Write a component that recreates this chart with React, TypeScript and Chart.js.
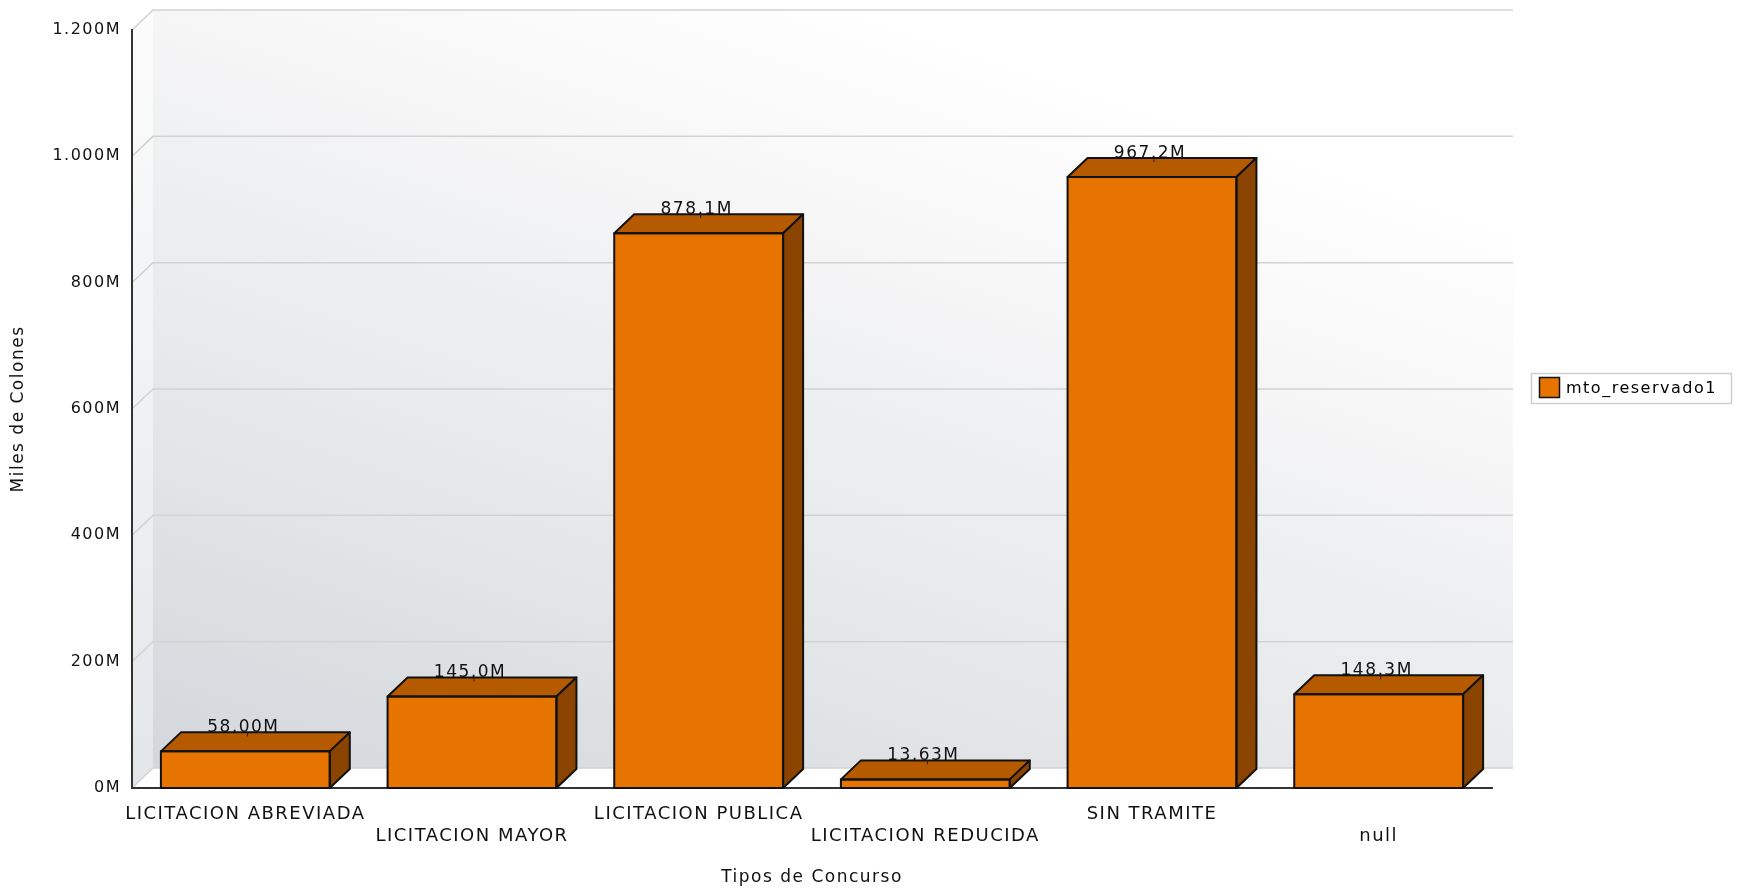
import React, { useEffect, useRef } from "react";
import { Chart, registerables } from "chart.js";

Chart.register(...registerables);

// ---------- data ----------
const categories: string[] = [
  "LICITACION ABREVIADA",
  "LICITACION MAYOR",
  "LICITACION PUBLICA",
  "LICITACION REDUCIDA",
  "SIN TRAMITE",
  "null",
];
const seriesName = "mto_reservado1";
// values in millions
const values: number[] = [58.0, 145.0, 878.1, 13.63, 967.2, 148.3];
const yTickValues: number[] = [0, 200, 400, 600, 800, 1000, 1200];
const yAxisTitle = "Miles de Colones";
const xAxisTitle = "Tipos de Concurso";

// ---------- style ----------
const W = 1743;
const H = 889;
const FONT = "'DejaVu Sans', sans-serif";
const FRONT = "#E87400";
const TOP = "#B65A00";
const SIDE = "#8A4400";
const TEXT = "#111111";
const DX = 20; // bar depth x
const DY = 19; // bar depth y
const WX = 21; // wall depth x
const WY = 20; // wall depth y

function fmtTick(v: number): string {
  const s = Math.round(v)
    .toString()
    .replace(/\B(?=(\d{3})+(?!\d))/g, ".");
  return s + "M";
}
function fmtVal(v: number): string {
  return v.toPrecision(4).replace(".", ",") + "M";
}

function setSpacing(chart: any) {
  try {
    (chart.ctx as any).letterSpacing = "1.5px";
  } catch (e) {}
}

const threeD = {
  id: "threeD",
  beforeUpdate: (chart: any) => setSpacing(chart),
  beforeLayout: (chart: any) => setSpacing(chart),
  beforeDraw(chart: any) {
    setSpacing(chart);
    const ctx: CanvasRenderingContext2D = chart.ctx;
    const { left, top, right, bottom } = chart.chartArea;
    const y = chart.scales.y;
    ctx.save();
    // floor
    ctx.beginPath();
    ctx.moveTo(left, bottom);
    ctx.lineTo(left + WX, bottom - WY);
    ctx.lineTo(right + WX, bottom - WY);
    ctx.lineTo(right, bottom);
    ctx.closePath();
    ctx.fillStyle = "#ffffff";
    ctx.fill();
    // left wall
    const lg = ctx.createLinearGradient(left, bottom, left + WX, top - WY);
    lg.addColorStop(0, "#e3e6e9");
    lg.addColorStop(1, "#fcfcfc");
    ctx.beginPath();
    ctx.moveTo(left, top);
    ctx.lineTo(left + WX, top - WY);
    ctx.lineTo(left + WX, bottom - WY);
    ctx.lineTo(left, bottom);
    ctx.closePath();
    ctx.fillStyle = lg;
    ctx.fill();
    // back wall
    const bx0 = left + WX;
    const by0 = bottom - WY;
    const bg = ctx.createLinearGradient(bx0, by0, bx0 + 300, by0 - 900);
    bg.addColorStop(0, "#d3d7db");
    bg.addColorStop(0.45, "#e9eaec");
    bg.addColorStop(0.6, "#eeeff1");
    bg.addColorStop(0.76, "#f6f6f7");
    bg.addColorStop(1, "#ffffff");
    ctx.fillStyle = bg;
    ctx.fillRect(left + WX, top - WY, right - left, bottom - top);
    // grid lines on walls
    ctx.strokeStyle = "#d2d2d2";
    ctx.lineWidth = 1.5;
    for (const v of yTickValues) {
      const py = y.getPixelForValue(v);
      ctx.beginPath();
      ctx.moveTo(left, py);
      ctx.lineTo(left + WX, py - WY);
      ctx.lineTo(right + WX, py - WY);
      ctx.stroke();
    }
    ctx.restore();
  },
  beforeDatasetsDraw(chart: any) {
    const ctx: CanvasRenderingContext2D = chart.ctx;
    const meta = chart.getDatasetMeta(0);
    const data = chart.data.datasets[0].data as number[];
    ctx.save();
    ctx.font = `17px ${FONT}`;
    ctx.fillStyle = TEXT;
    ctx.textAlign = "center";
    ctx.textBaseline = "alphabetic";
    meta.data.forEach((el: any, i: number) => {
      const p = el.getProps(["x", "y"], true);
      ctx.fillText(fmtVal(data[i]), p.x - 2, p.y - DY + 0);
    });
    ctx.restore();
  },
  afterDatasetsDraw(chart: any) {
    const ctx: CanvasRenderingContext2D = chart.ctx;
    const meta = chart.getDatasetMeta(0);
    ctx.save();
    ctx.lineWidth = 2;
    ctx.lineJoin = "round";
    ctx.strokeStyle = "#111";
    meta.data.forEach((el: any) => {
      const p = el.getProps(["x", "y", "base", "width"], true);
      const l = p.x - p.width / 2;
      const r = p.x + p.width / 2;
      const t = p.y;
      const b = p.base;
      // top face
      ctx.beginPath();
      ctx.moveTo(l, t);
      ctx.lineTo(l + DX, t - DY);
      ctx.lineTo(r + DX, t - DY);
      ctx.lineTo(r, t);
      ctx.closePath();
      ctx.fillStyle = TOP;
      ctx.fill();
      ctx.stroke();
      // side face
      ctx.beginPath();
      ctx.moveTo(r, t);
      ctx.lineTo(r + DX, t - DY);
      ctx.lineTo(r + DX, b - DY);
      ctx.lineTo(r, b);
      ctx.closePath();
      ctx.fillStyle = SIDE;
      ctx.fill();
      ctx.stroke();
      // front outline
      ctx.strokeRect(l, t, r - l, b - t);
      // small leader tick under the value label
      ctx.save();
      ctx.lineWidth = 1;
      ctx.strokeStyle = "#222";
      ctx.beginPath();
      ctx.moveTo(p.x + 2, t - DY);
      ctx.lineTo(p.x + 2, t - DY + 4);
      ctx.stroke();
      ctx.restore();
    });
    ctx.restore();
  },
  afterDraw(chart: any) {
    const ctx: CanvasRenderingContext2D = chart.ctx;
    const ds = chart.data.datasets[0];
    ctx.save();
    // legend box
    ctx.fillStyle = "#ffffff";
    ctx.fillRect(1531, 373, 201, 31);
    ctx.strokeStyle = "#cfcfcf";
    ctx.lineWidth = 1.5;
    ctx.strokeRect(1531.5, 373.5, 200, 30);
    // swatch
    ctx.fillStyle = ds.backgroundColor as string;
    ctx.fillRect(1539, 377, 21, 21);
    ctx.strokeStyle = "#111";
    ctx.lineWidth = 1.5;
    ctx.strokeRect(1539.5, 377.5, 20, 20);
    // text
    ctx.font = `16px ${FONT}`;
    ctx.fillStyle = "#000";
    ctx.textAlign = "left";
    ctx.textBaseline = "middle";
    ctx.fillText(ds.label as string, 1566, 389);
    ctx.restore();
  },
};

export default function App() {
  const canvasRef = useRef<HTMLCanvasElement | null>(null);

  useEffect(() => {
    if (!canvasRef.current) return;
    const chart = new Chart(canvasRef.current, {
      type: "bar",
      data: {
        labels: categories,
        datasets: [
          {
            label: seriesName,
            data: values,
            backgroundColor: FRONT,
            borderColor: "#111",
            borderWidth: 0,
            barPercentage: 0.745,
            categoryPercentage: 1,
          },
        ],
      },
      options: {
        responsive: false,
        animation: false,
        devicePixelRatio: 1,
        layout: { padding: { left: 0, top: 30, right: 251, bottom: 0 } },
        plugins: {
          legend: { display: false },
          tooltip: { enabled: false },
          title: { display: false },
        },
        scales: {
          x: {
            grid: { display: false, drawTicks: false },
            border: { display: true, color: "#333", width: 2 },
            ticks: {
              autoSkip: false,
              maxRotation: 0,
              minRotation: 0,
              padding: 15,
              color: TEXT,
              font: { family: FONT, size: 18, lineHeight: 22 / 18 },
              callback: (_v: any, i: number) =>
                i % 2 === 0 ? categories[i] : ["", categories[i]],
            },
            title: {
              display: true,
              text: xAxisTitle,
              color: TEXT,
              font: { family: FONT, size: 17, lineHeight: 1.2 },
              padding: { top: 0, bottom: 1 },
            },
            afterFit: (s: any) => {
              s.height = 101;
            },
          },
          y: {
            min: 0,
            max: 1200,
            grid: { display: false, drawTicks: false },
            border: { display: true, color: "#333", width: 2 },
            ticks: {
              padding: 11,
              color: TEXT,
              font: { family: FONT, size: 16 },
              callback: (v: any) => fmtTick(Number(v)),
            },
            afterBuildTicks: (s: any) => {
              s.ticks = yTickValues.map((v) => ({ value: v }));
            },
            title: {
              display: true,
              text: yAxisTitle,
              color: TEXT,
              font: { family: FONT, size: 17, lineHeight: 1.2 },
              padding: { top: 8, bottom: 0 },
            },
            afterFit: (s: any) => {
              s.width = 132;
            },
          },
        },
      } as any,
      plugins: [threeD as any],
    });
    return () => chart.destroy();
  }, []);

  return (
    <div
      style={{
        position: "fixed",
        left: 0,
        top: 0,
        width: W,
        height: H,
        background: "#ffffff",
      }}
    >
      <canvas
        ref={canvasRef}
        width={W}
        height={H}
        style={{ display: "block", width: W, height: H }}
      />
    </div>
  );
}
